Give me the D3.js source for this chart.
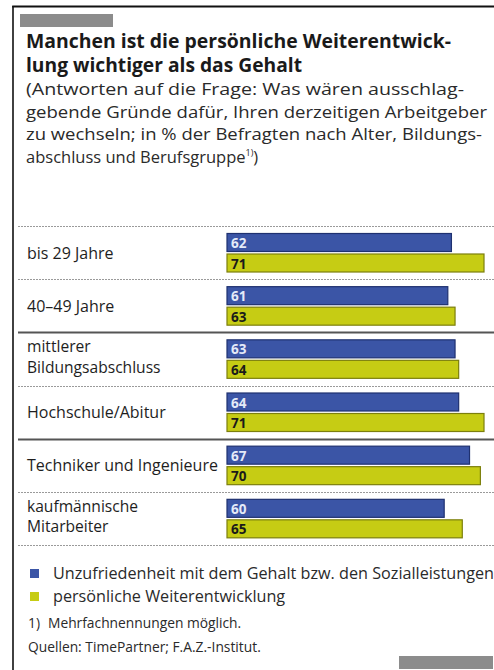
<!DOCTYPE html>
<html><head><meta charset="utf-8">
<script src="https://cdn.jsdelivr.net/npm/d3@7"></script>
<style>
html,body{margin:0;padding:0;background:#fff;}
svg{display:block;}
text{font-family:"Open Sans",sans-serif;}
</style></head>
<body>
<svg id="c" width="494" height="670"></svg>
<script>
const categories = [
  ["bis 29 Jahre"],
  ["40–49 Jahre"],
  ["mittlerer", "Bildungsabschluss"],
  ["Hochschule/Abitur"],
  ["Techniker und Ingenieure"],
  ["kaufmännische", "Mitarbeiter"]
];
const gehalt = [62, 61, 63, 64, 67, 60];
const weiterentwicklung = [71, 63, 64, 71, 70, 65];
const seriesNames = ["Unzufriedenheit mit dem Gehalt bzw. den Sozialleistungen", "persönliche Weiterentwicklung"];
const separatorTypes = ["dashed", "dashed", "solid", "dashed", "solid", "dashed", "dashed"];
const titleLines = ["Manchen ist die persönliche Weiterentwick-", "lung wichtiger als das Gehalt"];
const subtitleLines = ["(Antworten auf die Frage: Was wären ausschlag-", "gebende Gründe dafür, Ihren derzeitigen Arbeitgeber", "zu wechseln; in % der Befragten nach Alter, Bildungs-", "abschluss und Berufsgruppe"];
const footnoteMarks = ["1)", ""];
const footnotes = ["Mehrfachnennungen möglich.", "Quellen: TimePartner; F.A.Z.-Institut."];

const svg = d3.select("#c");
const BLUE = "#3b55a6", BLUE_S = "#1f3170";
const YEL = "#c6cc14", YEL_S = "#7c7f0c";

// frame
svg.append("line").attr("x1",13).attr("x2",13).attr("y1",6).attr("y2",670).attr("stroke","#111").attr("stroke-width",1.6);
svg.append("line").attr("x1",12.2).attr("x2",494).attr("y1",6.5).attr("y2",6.5).attr("stroke","#111").attr("stroke-width",1.8);
svg.append("rect").attr("x",20).attr("y",14).attr("width",93).attr("height",13).attr("fill","#8c8c8c");
svg.append("rect").attr("x",399).attr("y",656).attr("width",94).attr("height",13).attr("fill","#8c8c8c");

// title
const tW = [425, 276];
titleLines.forEach((t,i)=>{
  svg.append("text").attr("x",26).attr("y",48+i*24)
    .attr("font-size",19).attr("font-weight",700).attr("fill","#1a1a1a")
    .attr("textLength",tW[i]).attr("lengthAdjust","spacingAndGlyphs").text(t);
});
const sW = [438, 461, 456, null];
subtitleLines.forEach((t,i)=>{
  const el = svg.append("text").attr("x",26).attr("y",95+i*22.7)
    .attr("font-size",16.5).attr("fill","#2a2a2a");
  const ts = el.append("tspan").text(t);
  if(sW[i]) ts.attr("textLength",sW[i]).attr("lengthAdjust","spacingAndGlyphs");
  if(i===3){
    el.append("tspan").attr("font-size",9).attr("dy",-7).text("1)");
    el.append("tspan").attr("dy",7).text(")");
  }
});

// scales
const y = d3.scaleBand().domain(d3.range(categories.length)).range([226,545]).paddingInner(0).paddingOuter(0);
const x = d3.scaleLinear().domain([0,71]).range([227,484]);
const bh = 18;

// separators
const sepY = d3.range(categories.length+1).map(i=> i<categories.length ? y(i) : y(categories.length-1)+y.bandwidth());
separatorTypes.forEach((s,i)=>{
  const l = svg.append("line").attr("x1",18).attr("x2",494).attr("y1",Math.round(sepY[i])+0.5).attr("y2",Math.round(sepY[i])+0.5);
  if(s==="dashed") l.attr("stroke","#9a9a9a").attr("stroke-width",1).attr("stroke-dasharray","2,1");
  else l.attr("stroke","#555").attr("stroke-width",2.2);
});

const g = svg.append("g");
categories.forEach((c,i)=>{
  const y0 = y(i);
  const mid = y0 + y.bandwidth()/2;
  if(c.length===1){
    g.append("text").attr("x",27).attr("y",mid+6).attr("font-size",16).attr("fill","#1e1e1e").text(c[0]);
  } else {
    c.forEach((t,j)=>g.append("text").attr("x",27).attr("y",mid-6.5+j*20.5).attr("font-size",15.6).attr("fill","#1e1e1e").text(t));
  }
  [[gehalt,BLUE,BLUE_S,"#e4eaf8",7.5],[weiterentwicklung,YEL,YEL_S,"#1a1a1a",28]].forEach(([arr,f,s,tc,off])=>{
    g.append("rect").attr("x",x(0)).attr("y",y0+off).attr("width",x(arr[i])-x(0)).attr("height",bh)
      .attr("fill",f).attr("stroke",s).attr("stroke-width",1.2);
    g.append("text").attr("x",x(0)+4).attr("y",y0+off+bh-3.5).attr("font-size",13.5).attr("font-weight",700)
      .attr("fill",tc).text(arr[i]);
  });
});

// legend
[[BLUE,569],[YEL,592]].forEach(([c,yy],i)=>{
  svg.append("rect").attr("x",30).attr("y",yy).attr("width",9).attr("height",9).attr("fill",c);
  svg.append("text").attr("x",53).attr("y",yy+9.5).attr("font-size",16.2).attr("fill","#2a2a2a").text(seriesNames[i]);
});
// footnotes
footnotes.forEach((t,i)=>{
  const el = svg.append("text").attr("x",28).attr("y",628+i*24).attr("font-size",13.8).attr("fill","#2a2a2a");
  if(footnoteMarks[i]){
    el.append("tspan").text(footnoteMarks[i]);
    el.append("tspan").attr("dx",8).text(t);
  } else el.text(t);
});
</script>
</body></html>
